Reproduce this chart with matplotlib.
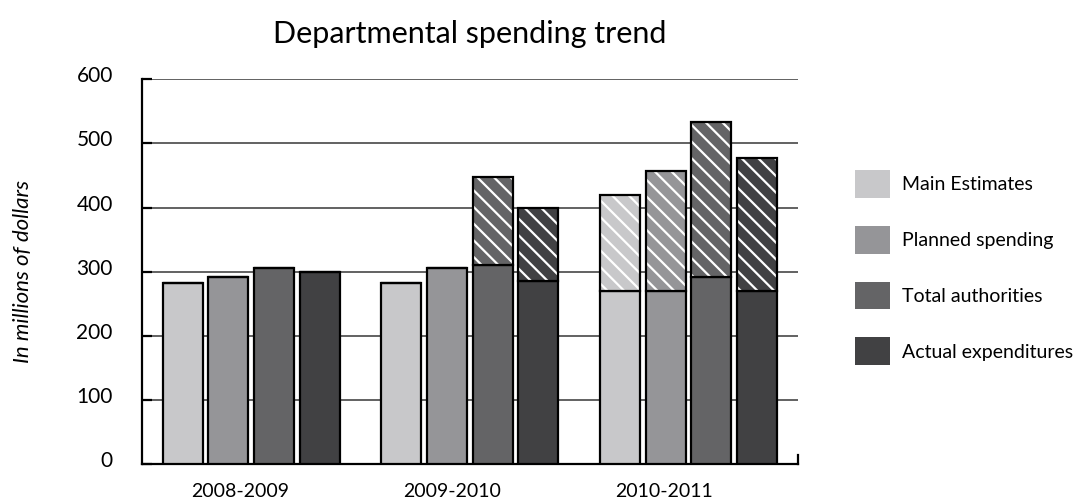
import numpy as np
import matplotlib
matplotlib.use('Agg')
import matplotlib.pyplot as plt
from matplotlib.patches import Patch
from matplotlib.transforms import ScaledTranslation

# Расходы по годам: сплошная часть и общая высота (верх заштрихован)
years = ['2008-2009', '2009-2010', '2010-2011']
series = ['Main Estimates', 'Planned spending', 'Total authorities', 'Actual expenditures']
main_base = [282, 282, 270]
main_total = [282, 282, 420]
planned_base = [291, 306, 270]
planned_total = [291, 306, 457]
authorities_base = [306, 311, 291]
authorities_total = [306, 448, 533]
actual_base = [300, 286, 270]
actual_total = [300, 400, 478]

colors = ['#c8c8ca', '#959598', '#646466', '#414143']
bases = [main_base, planned_base, authorities_base, actual_base]
totals = [main_total, planned_total, authorities_total, actual_total]

plt.rcParams['font.family'] = ['Lato', 'DejaVu Sans']
plt.rcParams['hatch.linewidth'] = 1.6

fig = plt.figure(figsize=(10.84, 5.04), dpi=100)
ax = fig.add_axes([0.131, 0.0794, 0.605, 0.7633])

x = np.arange(len(years))
step = 0.209
width = 0.183

for i in range(4):
    pos = x + (i - 1.5) * step
    base = np.array(bases[i])
    top = np.array(totals[i]) - base
    ax.bar(pos, base, width, color=colors[i], edgecolor='black', linewidth=1.6, zorder=3)
    # заштрихованная часть сверху
    ax.bar(pos, top, width, bottom=base, color=colors[i], edgecolor='white',
           hatch='\\\\', linewidth=0, zorder=3)
    ax.bar(pos, top, width, bottom=base, fill=False, edgecolor='black',
           linewidth=1.6, zorder=4)

ax.set_xlim(-0.5, 2.5)
ax.set_ylim(0, 600)
ax.set_yticks(range(0, 601, 100))
ax.set_xticks(x - 0.05 - 0.03 * x)
ax.set_xticklabels(years)
ax.tick_params(axis='x', length=0, pad=14, labelsize=14)
ax.tick_params(axis='y', direction='in', length=7, width=1.6, pad=21, labelsize=15)
ax.yaxis.grid(True, color='#555555', linewidth=1.3, zorder=0)

# подписи оси y чуть выше линий сетки
for lbl in ax.get_yticklabels():
    lbl.set_transform(lbl.get_transform() + ScaledTranslation(0, 0.05, fig.dpi_scale_trans))

ax.spines['top'].set_visible(False)
ax.spines['right'].set_bounds(0, 14)
ax.spines['left'].set_linewidth(1.6)
ax.spines['bottom'].set_linewidth(1.6)
ax.spines['right'].set_linewidth(1.6)

ax.set_title('Departmental spending trend', fontsize=22, pad=26)
ax.set_ylabel('In millions of dollars', fontsize=16, style='italic', labelpad=31)

handles = [Patch(facecolor=c, edgecolor='none') for c in colors]
fig.legend(handles, series, loc='upper left', bbox_to_anchor=(0.789, 0.662),
           frameon=False, fontsize=14, handlelength=1.8, handleheight=1.8,
           handletextpad=0.6, labelspacing=1.45, borderpad=0, borderaxespad=0)

fig.savefig('out.png', dpi=100)
